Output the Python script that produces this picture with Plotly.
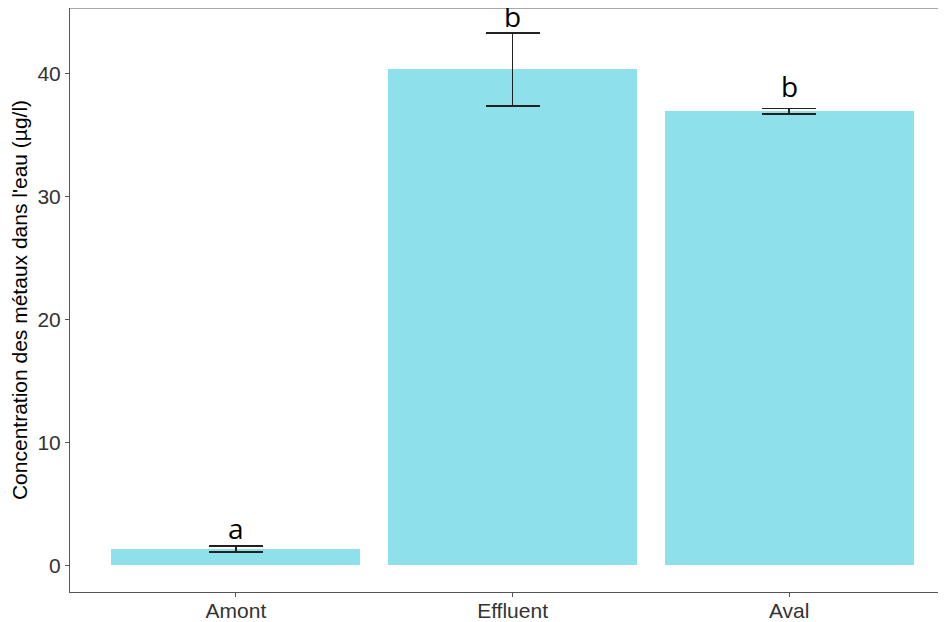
import plotly.graph_objects as go

categories = ["Amont", "Effluent", "Aval"]
means = [1.36, 40.33, 36.91]
err_plus = [0.21, 2.92, 0.22]
err_minus = [0.25, 3.01, 0.24]
letters = ["a", "b", "b"]
letter_y = [2.03, 43.65, 38.0]

fig = go.Figure()
fig.add_trace(go.Bar(
    x=categories, y=means, width=0.9,
    marker=dict(color="#8ee1ea", line=dict(width=0)),
    error_y=dict(type="data", symmetric=False, array=err_plus, arrayminus=err_minus,
                 color="#222222", thickness=1.5, width=27),
    showlegend=False,
))

for c, l, yv in zip(categories, letters, letter_y):
    fig.add_annotation(x=c, y=yv, text=l, showarrow=False, yanchor="bottom",
                       yshift=-9, font=dict(family="Open Sans", size=28, color="black"))

fig.update_layout(
    width=938, height=614,
    margin=dict(l=62, r=0, t=0, b=30),
    plot_bgcolor="white", paper_bgcolor="white",
    bargap=0,
    font=dict(family="Liberation Sans, Arial", size=21, color="#333333"),
    xaxis=dict(range=[-0.6, 2.567], showline=True, linecolor="#555555", linewidth=1,
               ticks="outside", ticklen=4, tickcolor="#555555", automargin=False,
               ticklabelstandoff=-4,
               tickfont=dict(size=21, color="#333333"), showgrid=False, zeroline=False),
    yaxis=dict(range=[-2.16, 45.3], showline=True, linecolor="#555555", linewidth=1,
               mirror=False, ticks="outside", ticklen=4, tickcolor="#555555", automargin=False,
               tickvals=[0, 10, 20, 30, 40], tickfont=dict(size=21, color="#333333"),
               showgrid=False, zeroline=False,
               title=dict(text="Concentration des métaux dans l'eau (µg/l)",
                          font=dict(size=21, color="black"), standoff=6)),
    shapes=[dict(type="line", xref="paper", yref="paper", x0=0, x1=1, y0=1, y1=1,
                 line=dict(color="#555555", width=1))],
)

fig.write_html("out.html")
